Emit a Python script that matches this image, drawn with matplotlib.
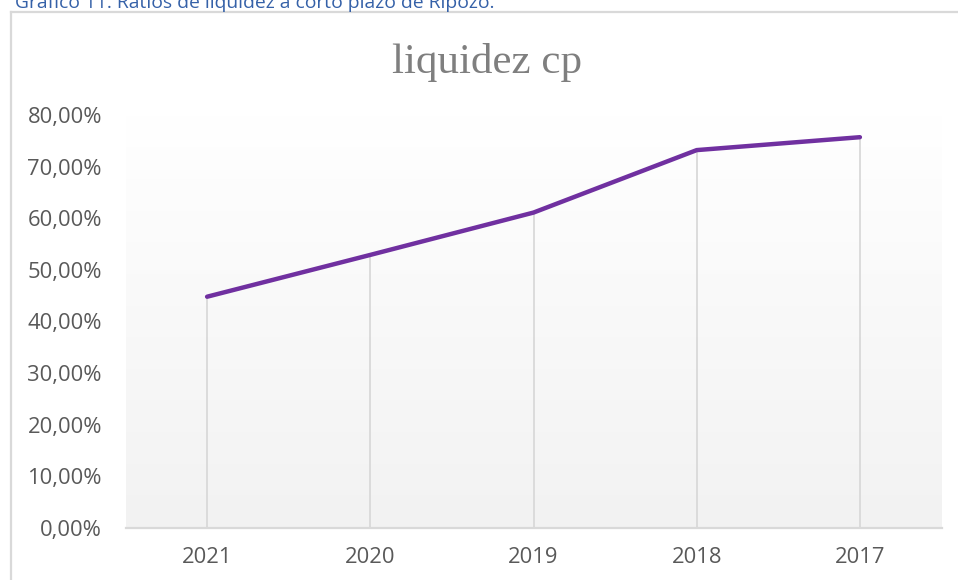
import matplotlib
matplotlib.use("Agg")
import matplotlib.pyplot as plt
import numpy as np
from matplotlib.lines import Line2D

years = ["2021", "2020", "2019", "2018", "2017"]
liquidez = [0.448, 0.529, 0.611, 0.732, 0.757]
yticks = [0.0, 0.1, 0.2, 0.3, 0.4, 0.5, 0.6, 0.7, 0.8]
ytick_labels = ["0,00%", "10,00%", "20,00%", "30,00%", "40,00%", "50,00%", "60,00%", "70,00%", "80,00%"]
title = "liquidez cp"
caption = "Gráfico 11. Ratios de liquidez a corto plazo de Ripozo."

W, H = 958, 580
fig = plt.figure(figsize=(W / 100, H / 100), dpi=100)
fig.patch.set_facecolor("white")

# outer chart border (left and top visible)
fig.add_artist(Line2D([11 / W, 11 / W], [0, 1 - 12 / H], transform=fig.transFigure,
                      color="#d9d9d9", lw=1.6))
fig.add_artist(Line2D([11 / W, 1], [1 - 12 / H, 1 - 12 / H], transform=fig.transFigure,
                      color="#d9d9d9", lw=1.6))

# caption (top partially clipped)
fig.text(15 / W, 1 - 8 / H, caption, fontsize=13.9, color="#3561A8",
         family="Open Sans", ha="left", va="baseline")

left, right = 125.5, 941.5
top, bottom = 115, 528
ax = fig.add_axes([left / W, 1 - bottom / H, (right - left) / W, (bottom - top) / H])

x = np.arange(len(years))

# gradient background
grad = np.linspace(1.0, 0.949, 256).reshape(-1, 1)
img = np.dstack([grad, grad, grad])
ax.imshow(img, extent=[-0.5, len(years) - 0.5, 0, 0.8], aspect="auto", zorder=0,
          interpolation="bilinear", origin="upper")
ax.set_xlim(-0.5, len(years) - 0.5)
ax.set_ylim(0, 0.8)

# drop lines
ax.vlines(x, 0, liquidez, color="#d9d9d9", lw=1.3, zorder=1)
ax.plot(x, liquidez, color="#7030A0", lw=3.2, solid_capstyle="round",
        solid_joinstyle="round", zorder=3)

for s in ["top", "right", "left"]:
    ax.spines[s].set_visible(False)
ax.spines["bottom"].set_color("#d9d9d9")
ax.spines["bottom"].set_linewidth(1.6)

ax.set_xticks(x)
ax.set_xticklabels(years)
ax.set_yticks(yticks)
ax.set_yticklabels(ytick_labels)
ax.tick_params(axis="both", length=0, labelsize=15.8, labelcolor="#595959")
ax.tick_params(axis="y", pad=17)
ax.tick_params(axis="x", pad=14)
for lab in ax.get_xticklabels() + ax.get_yticklabels():
    lab.set_family("Open Sans")

fig.text(487 / W, 1 - 73 / H, title, fontsize=31, color="#7f7f7f",
         family="Liberation Serif", ha="center", va="baseline")

fig.savefig("out.png", dpi=100)
